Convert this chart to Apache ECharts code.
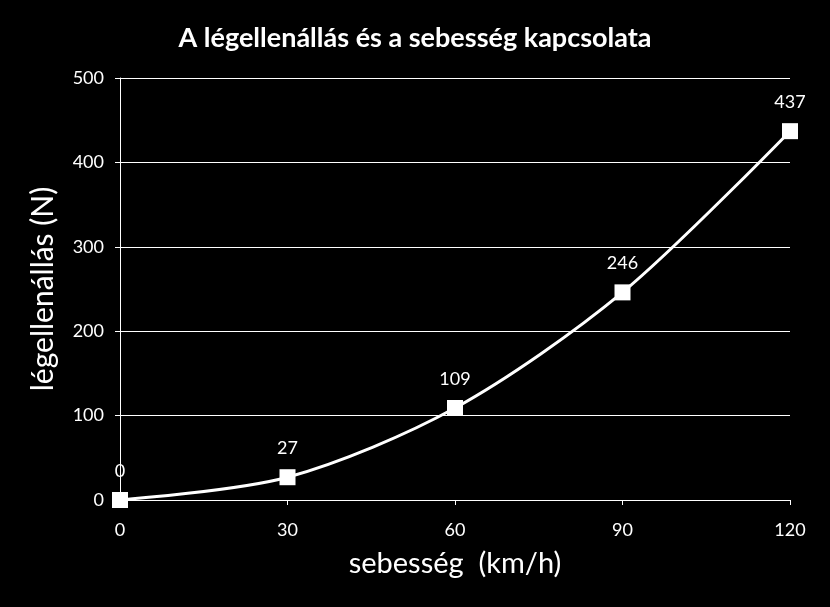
<!DOCTYPE html>
<html>
<head>
<meta charset="utf-8">
<script src="https://cdn.jsdelivr.net/npm/echarts@6/dist/echarts.min.js"></script>
<style>
html,body{margin:0;padding:0;background:#000;}
#c{width:830px;height:607px;}
</style>
</head>
<body>
<div id="c"></div>
<script>
const speeds = [0, 30, 60, 90, 120];
const drag = [0, 27, 109, 246, 437];
const titleText = 'A légellenállás és a sebesség kapcsolata';
const xName = 'sebesség  (km/h)';
const yName = 'légellenállás (N)';

const FONT = 'Lato, "Open Sans", sans-serif';
const chart = echarts.init(document.getElementById('c'), null, {renderer: 'canvas'});
chart.setOption({
  backgroundColor: '#000',
  animation: false,
  title: {
    text: titleText,
    left: 'center',
    top: 20,
    textStyle: {color: '#fff', fontFamily: FONT, fontWeight: 'bold', fontSize: 27}
  },
  grid: {left: 120, right: 40, top: 78, bottom: 107, containLabel: false},
  xAxis: {
    type: 'value',
    min: 0, max: 120, interval: 30,
    name: xName,
    nameLocation: 'middle',
    nameGap: 49,
    nameTextStyle: {color: '#fff', fontFamily: FONT, fontSize: 29},
    axisLine: {lineStyle: {color: '#fff', width: 1}},
    axisTick: {show: true, length: 5, inside: false, lineStyle: {color: '#fff'}},
    axisLabel: {color: '#fff', fontFamily: FONT, fontSize: 18, margin: 21},
    splitLine: {show: false}
  },
  yAxis: {
    type: 'value',
    min: 0, max: 500, interval: 100,
    name: yName,
    nameLocation: 'middle',
    nameGap: 62,
    nameTextStyle: {color: '#fff', fontFamily: FONT, fontSize: 30},
    axisLine: {show: true, lineStyle: {color: '#fff', width: 1}},
    axisTick: {show: true, length: 5, inside: false, lineStyle: {color: '#fff'}},
    axisLabel: {color: '#fff', fontFamily: FONT, fontSize: 18, margin: 16},
    splitLine: {show: true, lineStyle: {color: '#fff', width: 1}}
  },
  series: [{
    type: 'line',
    data: speeds.map((s, i) => [s, drag[i]]),
    smooth: 0.3,
    symbol: 'rect',
    symbolSize: 16,
    itemStyle: {color: '#fff'},
    lineStyle: {color: '#fff', width: 3},
    label: {
      show: true, position: 'top', distance: 12,
      color: '#fff', fontFamily: FONT, fontSize: 18
    }
  }]
});
</script>
</body>
</html>
